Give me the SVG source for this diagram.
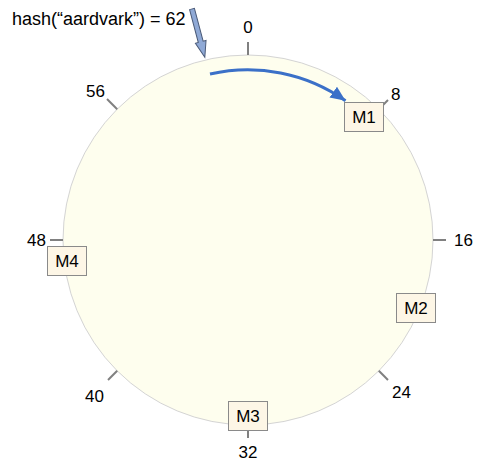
<svg xmlns="http://www.w3.org/2000/svg" width="485" height="473" viewBox="0 0 485 473">
<style>
text{font-family:"Liberation Sans",Arial,sans-serif;font-size:17px;fill:#000}
.tick{stroke:#808080;stroke-width:2}
.box{fill:#fdf6e6;stroke:#8a8a8a;stroke-width:1}
.bl{text-anchor:middle}
</style>
<defs>
<marker id="ah" markerUnits="userSpaceOnUse" markerWidth="16" markerHeight="14" refX="15" refY="6.5" orient="auto">
<path d="M0,0 L15,6.5 L0,13 Z" fill="#3b70c8"/>
</marker>
</defs>
<rect width="485" height="473" fill="#fff"/>
<g id="ring">
<circle cx="248" cy="240" r="185" fill="#fefeee" stroke="#d4d4d4" stroke-width="1"/>
</g>
<g id="ticks">
<line class="tick" x1="248" y1="55" x2="248" y2="42"/>
<line class="tick" x1="378.8" y1="109.2" x2="388" y2="100"/>
<line class="tick" x1="433" y1="240" x2="446" y2="240"/>
<line class="tick" x1="378.8" y1="370.8" x2="388" y2="380"/>
<line class="tick" x1="248" y1="425" x2="248" y2="438"/>
<line class="tick" x1="117.2" y1="370.8" x2="108" y2="380"/>
<line class="tick" x1="63" y1="240" x2="50" y2="240"/>
<line class="tick" x1="117.2" y1="109.2" x2="107" y2="99"/>
</g>
<g id="labels">
<text x="248" y="33" text-anchor="middle">0</text>
<text x="391" y="100">8</text>
<text x="454" y="246">16</text>
<text x="392" y="398">24</text>
<text x="248" y="458" text-anchor="middle">32</text>
<text x="104" y="402" text-anchor="end">40</text>
<text x="46" y="246" text-anchor="end">48</text>
<text x="105" y="97" text-anchor="end">56</text>
</g>
<g id="M1"><rect class="box" x="344.5" y="102.5" width="39" height="29"/><text class="bl" x="364" y="123">M1</text></g>
<g id="M2"><rect class="box" x="396.5" y="293.5" width="39" height="29"/><text class="bl" x="416" y="314">M2</text></g>
<g id="M3"><rect class="box" x="228.5" y="401.5" width="39" height="29"/><text class="bl" x="248" y="422">M3</text></g>
<g id="M4"><rect class="box" x="47.5" y="246.5" width="39" height="29"/><text class="bl" x="67" y="267">M4</text></g>
<g id="connectors">
<path d="M210,74 A170,170 0 0 1 345.5,100.7" fill="none" stroke="#3b70c8" stroke-width="3" marker-end="url(#ah)"/>
<polygon transform="translate(192,9) rotate(-14.86)" points="-2.5,0 2.5,0 2.5,34 5.5,34 0,50 -5.5,34 -2.5,34" fill="#8fa9d6" stroke="#4a5a78" stroke-width="1" stroke-linejoin="miter"/>
</g>
<text x="12" y="25" style="font-size:18px">hash(“aardvark”) = 62</text>
</svg>
